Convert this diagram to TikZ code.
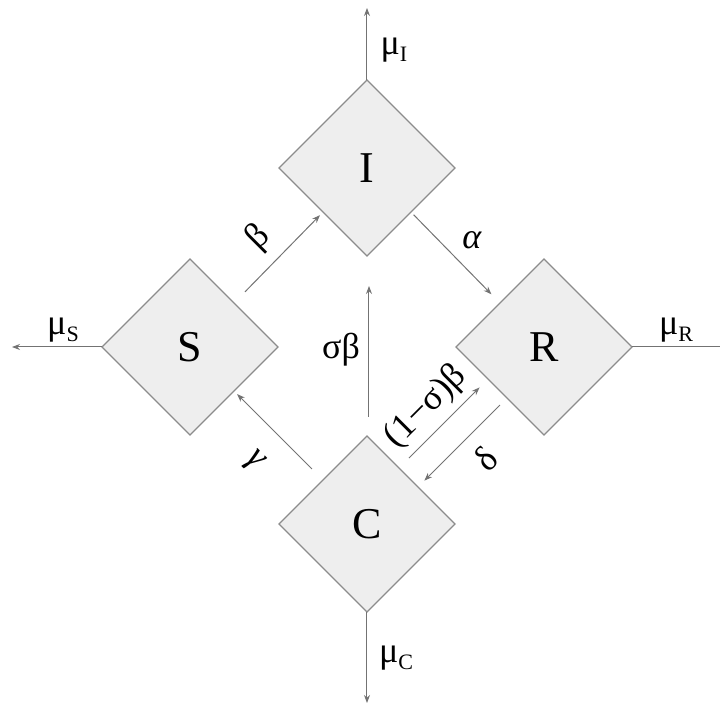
\documentclass[tikz,border=0pt]{standalone}
\usepackage{fontspec}
\setmainfont{Liberation Serif}
\usetikzlibrary{shapes.geometric, arrows.meta, calc}
\definecolor{boxfill}{RGB}{238, 238, 238}
\definecolor{boxline}{RGB}{140, 140, 140}
\definecolor{flowgray}{RGB}{115, 115, 115}
\newcommand{\lowsub}[1]{\raisebox{-0.45ex}{\fontsize{11}{13}\selectfont #1}}
\tikzset{
    compartment/.style={
        diamond, minimum width=88pt, minimum height=88pt, inner sep=0pt, outer sep=0pt,
        draw=boxline, fill=boxfill, line width=0.6pt, font=\fontsize{22}{26}\selectfont
    },
    flow/.style={-{Stealth[length=4pt, width=3pt]}, line width=0.5pt, color=flowgray},
    flowline/.style={line width=0.5pt, color=flowgray},
    rate/.style={font=\fontsize{18}{21}\selectfont, inner sep=0pt},
}

\begin{document}
\begin{tikzpicture}[x=0.5pt, y=-0.5pt]
    \useasboundingbox (0,0) rectangle (720,706);

    \node[compartment] (I) at (367,168) {I};
    \node[compartment] (S) at (190,347) {S};
    \node[compartment] (R) at (544,347) {R};
    \node[compartment] (C) at (367,524) {C};

    \coordinate (outI) at (367,8);
    \coordinate (outS) at (12,347);
    \coordinate (outR) at (720,347);
    \coordinate (outC) at (367,703);

    \draw[flow] (I) -- (outI);
    \draw[flow] (S) -- (outS);
    \draw[flowline] (R) -- (outR);
    \draw[flow] (C) -- (outC);

    \draw[flow, shorten <=5pt, shorten >=5pt] ([shift={(4,-4)}]S.north east) -- ([shift={(4,-4)}]I.south west);
    \draw[flow, shorten <=4pt, shorten >=4pt] ([shift={(-3,-3)}]I.south east) -- ([shift={(-3,-3)}]R.north west);
    \draw[flow, shorten <=5pt, shorten >=5pt] ([shift={(-4,-4)}]C.north west) -- ([shift={(-4,-4)}]S.south east);
    \draw[flow, shorten <=9.5pt, shorten >=15pt] ([xshift=1]C.north) -- ([xshift=1]I.south);
    \draw[flow, shorten <=7pt, shorten >=6pt] ([shift={(-12,-12)}]C.north east) -- ([shift={(-12,-12)}]R.south west);
    \draw[flow, shorten <=5pt, shorten >=4.5pt] ([shift={(7,7)}]R.south west) -- ([shift={(7,7)}]C.north east);

    \node[rate] (muI) at (394,50) {μ\lowsub{I}};
    \node[rate] (muS) at (63,330) {μ\lowsub{S}};
    \node[rate] (muR) at (676,330) {μ\lowsub{R}};
    \node[rate] (muC) at (396,658) {μ\lowsub{C}};

    \node[rate, rotate=45] (beta) at (259,238) {β};
    \node[rate] (alpha) at (472,240) {\textit{α}};
    \node[rate, rotate=-45] (gamma) at (254,462) {\textit{γ}};
    \node[rate] (sigbeta) at (341,350) {σβ};
    \node[rate, rotate=45] (restbeta) at (426,407) {(1−σ)β};
    \node[rate, rotate=45] (delta) at (486,459) {δ};
\end{tikzpicture}
\end{document}
